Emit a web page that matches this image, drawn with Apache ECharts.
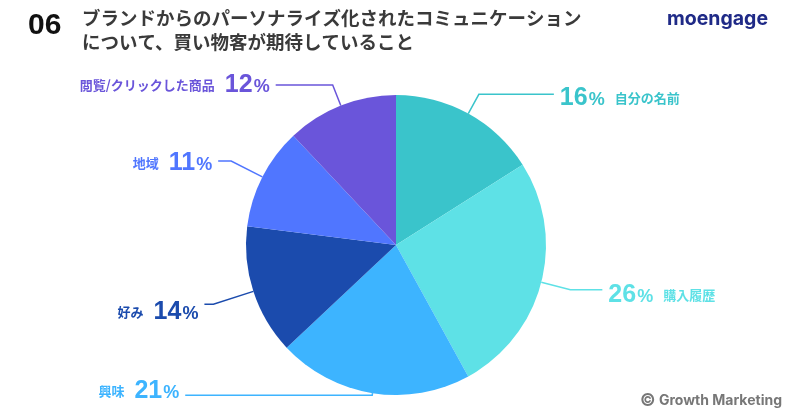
<!DOCTYPE html>
<html><head><meta charset="utf-8">
<script src="https://cdn.jsdelivr.net/npm/echarts@6/dist/echarts.min.js"></script>
<style>html,body{margin:0;padding:0;background:#fff}#c{width:800px;height:420px}</style>
</head><body><div id="c"></div>
<script>
const categories = ['自分の名前', '購入履歴', '興味', '好み', '地域', '閲覧/クリックした商品'];
const values = [16, 26, 21, 14, 11, 12];
const colors = ['#3AC4CB', '#5EE1E6', '#3DB4FF', '#1B4BAD', '#5076FF', '#6A55DA'];
const lineLen = [22, 30, 2, 42, 35, 22];
const lineLen2 = [75, 32, 187, 9, 13, 57];
const labelPad = [[8, 0, 0, 0], [10, 0, 0, 0], [0, 0, 8, 0], [16, 0, 0, 0], [4, 0, 0, 0], [0, 0, 0, 0]];

const total = values.reduce((a, b) => a + b, 0);
let acc = 0;
const rightSide = values.map(v => { const mid = (acc + v / 2) / total; acc += v; return mid < 0.5; });

const jp = '"Noto Sans CJK JP", "Noto Sans", sans-serif';
const num = '"Liberation Sans", Arial, sans-serif';

const data = categories.map((name, i) => ({
  name, value: values[i],
  itemStyle: { color: colors[i] },
  labelLine: { length: lineLen[i], length2: lineLen2[i], lineStyle: { color: colors[i], width: 1.5 } },
  label: {
    color: colors[i],
    padding: labelPad[i],
    rich: {
      n: { fontFamily: jp, fontSize: 13, fontWeight: 'bold', color: colors[i] },
      v: { fontFamily: num, fontSize: 25, fontWeight: 'bold', color: colors[i] },
      p: { fontFamily: num, fontSize: 18, fontWeight: 'bold', color: colors[i], padding: [4, 0, 0, 1] },
      s: { width: 10 }
    }
  }
}));

const chart = echarts.init(document.getElementById('c'), null, { renderer: 'canvas' });
chart.setOption({
  backgroundColor: '#fff',
  animation: false,
  title: [
    { text: '06', left: 23, top: 6, textStyle: { fontFamily: num, fontSize: 30, fontWeight: 'bold', color: '#111' } },
    { text: 'ブランドからのパーソナライズ化されたコミュニケーション\nについて、買い物客が期待していること', left: 77, top: 1,
      textStyle: { fontFamily: jp, fontSize: 18.5, lineHeight: 24, fontWeight: 'bold', color: '#3a3a3a' } },
    { text: 'moengage', right: 27, top: 4, textStyle: { fontFamily: '"Inter", "Noto Sans", sans-serif', fontSize: 19.5, fontWeight: 'bold', color: '#1F2A87' } },
    { text: '{c|©} Growth Marketing', right: 12, bottom: 7, padding: [4, 6],
      backgroundColor: 'rgba(255,255,255,0.9)', borderRadius: 12,
      textStyle: { fontFamily: '"Inter", "Noto Sans", sans-serif', fontSize: 14, fontWeight: 'bold', color: '#777',
        rich: { c: { fontSize: 17, fontWeight: 'bold', color: '#777' } } } }
  ],
  series: [{
    type: 'pie',
    center: [396, 245],
    radius: 150,
    startAngle: 90,
    clockwise: true,
    avoidLabelOverlap: false,
    itemStyle: { borderWidth: 0 },
    label: {
      show: true,
      position: 'outer',
      alignTo: 'none',
      distanceToLabelLine: 6,
      formatter: p => rightSide[p.dataIndex]
        ? `{v|${p.value}}{p|%}{s|}{n|${p.name}}`
        : `{n|${p.name}}{s|}{v|${p.value}}{p|%}`
    },
    labelLine: { show: true, smooth: false },
    emphasis: { disabled: true },
    data
  }]
});
</script></body></html>
